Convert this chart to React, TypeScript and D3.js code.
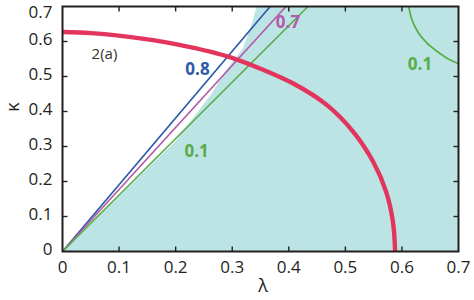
import * as d3 from "d3";
import * as React from "react";

// lambda (x) / kappa (y) phase diagram, panel 2(a)
const lambdaTicks = [0, 0.1, 0.2, 0.3, 0.4, 0.5, 0.6, 0.7];
const kappaTicks = [0, 0.1, 0.2, 0.3, 0.4, 0.5, 0.6, 0.7];
const tickLabels = ["0", "0.1", "0.2", "0.3", "0.4", "0.5", "0.6", "0.7"];

// boundary of the shaded region (left edge)
const fillEdge: [number, number][] = [
  [0, 0], [0.2, 0.316], [0.228, 0.376], [0.264, 0.452], [0.29, 0.519],
  [0.319, 0.581], [0.334, 0.647], [0.343, 0.7],
];

// straight contours from the origin
const line08: [number, number][] = [[0, 0], [0.367, 0.7]];
const line07: [number, number][] = [[0, 0], [0.395, 0.7]];
const line01: [number, number][] = [[0, 0], [0.434, 0.7]];

// 0.1 contour in the top right corner
const arc01: [number, number][] = [
  [0.612, 0.7], [0.618, 0.661], [0.629, 0.625], [0.644, 0.596],
  [0.662, 0.572], [0.679, 0.553], [0.7, 0.537],
];

// thick red boundary
const redCurve: [number, number][] = [
  [0, 0.627], [0.05, 0.624], [0.114, 0.614], [0.16, 0.604], [0.202, 0.592],
  [0.261, 0.571], [0.302, 0.552], [0.349, 0.523], [0.408, 0.48],
  [0.467, 0.419], [0.514, 0.342], [0.549, 0.257], [0.572, 0.171],
  [0.584, 0.086], [0.588, 0],
];

const W = 474;
const H = 300;
const ink = "#231f20";
const font = "'Open Sans', sans-serif";

export default function App() {
  const x = d3.scaleLinear().domain([0, 0.7]).range([62.5, 458.5]);
  const y = d3.scaleLinear().domain([0, 0.7]).range([251.5, 6.5]);

  const straight = d3
    .line<[number, number]>()
    .x((d) => x(d[0]))
    .y((d) => y(d[1]));
  const smooth = d3
    .line<[number, number]>()
    .x((d) => x(d[0]))
    .y((d) => y(d[1]))
    .curve(d3.curveCatmullRom);

  const fillPath =
    straight([...fillEdge, [0.7, 0.7], [0.7, 0]] as [number, number][]) + "Z";

  const tickLen = 5;

  return (
    <svg
      width={W}
      height={H}
      style={{ position: "fixed", left: 0, top: 0, background: "#fff" }}
    >
      <path d={fillPath} fill="#bde4e4" />

      <path d={straight(line08)!} fill="none" stroke="#2e5aa9" strokeWidth={1.7} />
      <path d={straight(line07)!} fill="none" stroke="#b25ba9" strokeWidth={1.7} />
      <path d={straight(line01)!} fill="none" stroke="#58ad48" strokeWidth={1.7} />
      <path d={smooth(arc01)!} fill="none" stroke="#58ad48" strokeWidth={1.7} />
      <path d={smooth(redCurve)!} fill="none" stroke="#e2355d" strokeWidth={4.4} />

      {/* frame */}
      <rect
        x={x(0)}
        y={y(0.7)}
        width={x(0.7) - x(0)}
        height={y(0) - y(0.7)}
        fill="none"
        stroke={ink}
        strokeWidth={2}
      />

      {/* ticks on all four sides, pointing inward */}
      {lambdaTicks.slice(1, -1).map((t) => (
        <g key={"xt" + t} stroke={ink} strokeWidth={1.4}>
          <line x1={x(t)} x2={x(t)} y1={y(0)} y2={y(0) - tickLen} />
          <line x1={x(t)} x2={x(t)} y1={y(0.7)} y2={y(0.7) + tickLen} />
        </g>
      ))}
      {kappaTicks.slice(1, -1).map((t) => (
        <g key={"yt" + t} stroke={ink} strokeWidth={1.4}>
          <line x1={x(0)} x2={x(0) + tickLen} y1={y(t)} y2={y(t)} />
          <line x1={x(0.7)} x2={x(0.7) - tickLen} y1={y(t)} y2={y(t)} />
        </g>
      ))}

      {/* tick labels */}
      {lambdaTicks.map((t, i) => (
        <text
          key={"xl" + t}
          x={x(t)}
          y={273}
          textAnchor="middle"
          fontFamily={font}
          fontSize={17}
          fill={ink}
        >
          {tickLabels[i]}
        </text>
      ))}
      {kappaTicks.map((t, i) => (
        <text
          key={"yl" + t}
          x={52.5}
          y={Math.max(y(t) - 2, 12)}
          dy="0.35em"
          textAnchor="end"
          fontFamily={font}
          fontSize={17}
          fill={ink}
        >
          {tickLabels[i]}
        </text>
      ))}

      {/* axis titles */}
      <text
        transform="translate(19,107) rotate(-90)"
        textAnchor="middle"
        fontFamily={font}
        fontSize={18}
        fill={ink}
      >
        κ
      </text>
      <text x={263} y={292} textAnchor="middle" fontFamily={font} fontSize={18} fill={ink}>
        λ
      </text>

      {/* annotations */}
      <text x={104.5} y={59} textAnchor="middle" fontFamily={font} fontSize={15} fill="#333">
        2(a)
      </text>
      <text x={197.5} y={75} textAnchor="middle" fontFamily={font} fontSize={17} fontWeight="bold" fill="#2e5aa9">
        0.8
      </text>
      <text x={288} y={28} textAnchor="middle" fontFamily={font} fontSize={17} fontWeight="bold" fill="#b25ba9">
        0.7
      </text>
      <text x={196.7} y={156.7} textAnchor="middle" fontFamily={font} fontSize={17} fontWeight="bold" fill="#58ad48">
        0.1
      </text>
      <text x={420} y={70} textAnchor="middle" fontFamily={font} fontSize={17} fontWeight="bold" fill="#58ad48">
        0.1
      </text>
    </svg>
  );
}
